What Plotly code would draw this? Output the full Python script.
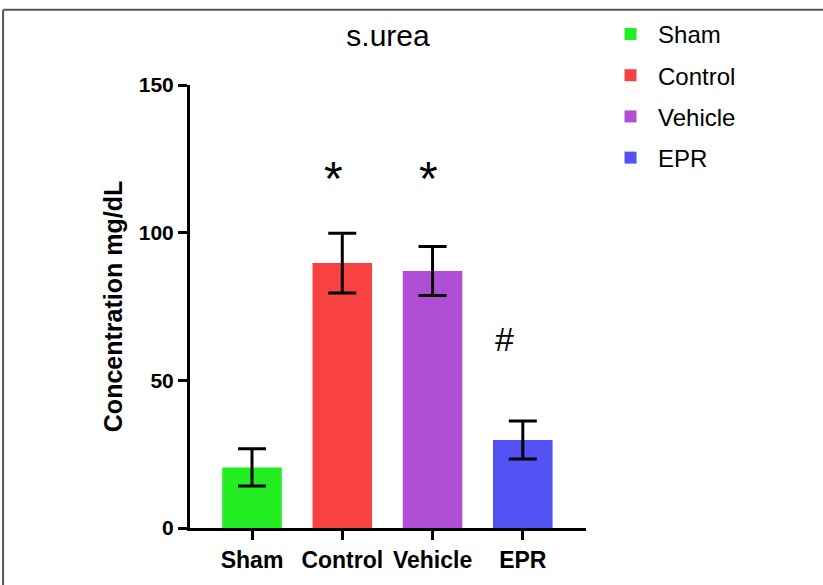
import plotly.graph_objects as go

categories = ["Sham", "Control", "Vehicle", "EPR"]
means = [20.5, 89.7, 87.0, 29.8]
sems = [6.3, 10.1, 8.3, 6.4]
colors = ["#22EE22", "#F84242", "#B04ED6", "#5252F5"]
y_ticks = [0, 50, 100, 150]
y_tick_labels = ["0", "50", "100", "150"]

FONT = "Liberation Sans, Arial, Helvetica"

fig = go.Figure()
for cat, m, e, c in zip(categories, means, sems, colors):
    fig.add_trace(go.Bar(
        x=[cat], y=[m], name=cat, width=0.66,
        marker=dict(color=c, line=dict(width=0)),
        error_y=dict(type="data", array=[e], visible=True, color="black", thickness=3, width=14),
        legendgroup=cat,
    ))

# significance markers
fig.add_annotation(x=0.9, y=118.5, xref="x", yref="y", text="*", showarrow=False,
                   font=dict(size=48, color="black", family=FONT))
fig.add_annotation(x=1.95, y=118.5, xref="x", yref="y", text="*", showarrow=False,
                   font=dict(size=48, color="black", family=FONT))
fig.add_annotation(x=2.8, y=64, xref="x", yref="y", text="#", showarrow=False,
                   font=dict(size=34, color="black", family=FONT))

# outer frame lines (left and top)
fig.add_shape(type="line", xref="paper", yref="paper", x0=-0.472, x1=1.7, y0=1.17, y1=1.17,
              line=dict(color="#555555", width=2))
fig.add_shape(type="line", xref="paper", yref="paper", x0=-0.472, x1=-0.472, y0=-0.2, y1=1.17,
              line=dict(color="#555555", width=2))

fig.update_layout(
    width=823, height=585,
    margin=dict(l=190, r=237, t=80, b=51),
    plot_bgcolor="white", paper_bgcolor="white",
    barmode="overlay",
    font=dict(family=FONT, color="black"),
    title=dict(text="s.urea", x=0.5, xref="paper", xanchor="center", y=0.94, yanchor="middle",
               font=dict(size=30, color="black")),
    showlegend=True,
    legend=dict(x=1.043, y=1.165, xanchor="left", yanchor="top", font=dict(size=24),
                tracegroupgap=7, itemwidth=45, bgcolor="rgba(0,0,0,0)"),
    xaxis=dict(range=[-0.687, 3.70], showline=True, linecolor="black", linewidth=3,
               ticks="outside", ticklen=9, tickwidth=3, tickcolor="black",
               tickfont=dict(size=23), tickprefix="<b>", ticksuffix="</b>",
               showgrid=False, zeroline=False, fixedrange=True),
    yaxis=dict(range=[0, 150], tickmode="array", tickvals=y_ticks,
               ticktext=["<b>" + t + "</b>" for t in y_tick_labels],
               showline=True, linecolor="black", linewidth=3,
               ticks="outside", ticklen=9, tickwidth=3, tickcolor="black",
               tickfont=dict(size=21),
               title=dict(text="<b>Concentration mg/dL</b>", font=dict(size=25), standoff=10),
               showgrid=False, zeroline=False, fixedrange=True),
)

fig.write_html("out.html", config={"displayModeBar": False},
               post_script="document.body.style.margin='0';")
